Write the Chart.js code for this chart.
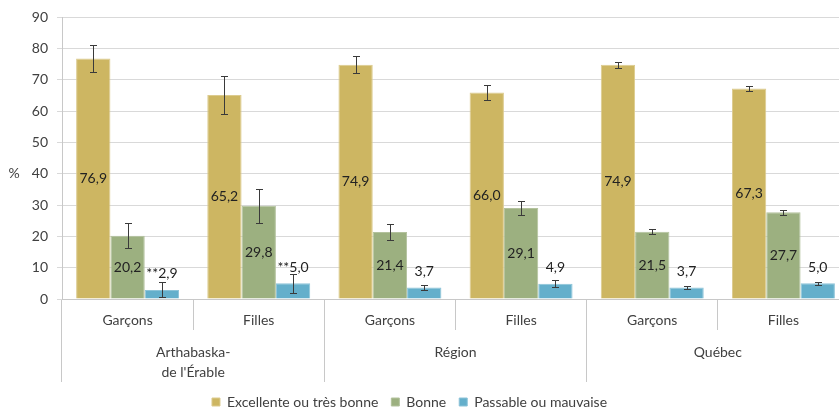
<!DOCTYPE html>
<html>
<head>
<meta charset="utf-8">
<script src="https://cdn.jsdelivr.net/npm/chart.js@4/dist/chart.umd.min.js"></script>
<style>
  html, body { margin: 0; padding: 0; background: #ffffff; overflow: hidden; width: 839px; height: 409px; }
  #wrap { position: relative; width: 849px; height: 409px; }
</style>
</head>
<body>
<div id="wrap"><canvas id="c"></canvas></div>
<script>
// ---- Data ----
const subLabels = ['Garçons', 'Filles', 'Garçons', 'Filles', 'Garçons', 'Filles'];
const groupLabels = [['Arthabaska-', "de l'Érable"], 'Région', 'Québec'];
const seriesNames = ['Excellente ou très bonne', 'Bonne', 'Passable ou mauvaise'];

const excellente = [76.9, 65.2, 74.9, 66.0, 74.9, 67.3];
const bonne      = [20.2, 29.8, 21.4, 29.1, 21.5, 27.7];
const passable   = [2.9, 5.0, 3.7, 4.9, 3.7, 5.0];

// error bar half-widths (estimated)
const errExcellente = [4.3, 6.0, 2.8, 2.5, 1.0, 0.9];
const errBonne      = [4.0, 5.5, 2.5, 2.3, 0.8, 0.9];
const errPassable   = [2.4, 3.0, 0.9, 1.2, 0.4, 0.5];

// label prefixes (** = to interpret with caution)
const prefixPassable = ['**', '**', '', '', '', ''];

const yTicks = { min: 0, max: 90, step: 10 };

// ---- Styles ----
const FONT = 'Lato, "Noto Sans", "DejaVu Sans", sans-serif';
const colors = ['#CDB662', '#9CB080', '#64AFCB'];
const borders = ['#DCCB8E', '#B3C29D', '#8CC3D8'];
const textCol = '#404040';
const axisCol = '#c8c8c8';
const gridCol = '#d9d9d9';

const fmt = v => v.toFixed(1).replace('.', ',');

const datasets = [
  { label: seriesNames[0], data: excellente, err: errExcellente, labelPos: 'center', prefix: null },
  { label: seriesNames[1], data: bonne, err: errBonne, labelPos: 'center', prefix: null },
  { label: seriesNames[2], data: passable, err: errPassable, labelPos: 'top', prefix: prefixPassable }
].map((d, i) => Object.assign(d, {
  backgroundColor: colors[i],
  borderColor: borders[i],
  borderWidth: 1,
  categoryPercentage: 0.785,
  barPercentage: 1.0
}));

const errorBarsPlugin = {
  id: 'errorBars',
  afterDatasetsDraw(chart) {
    const ctx = chart.ctx;
    const ys = chart.scales.y;
    ctx.save();
    ctx.strokeStyle = '#3a3a3a';
    ctx.lineWidth = 1;
    chart.data.datasets.forEach((ds, i) => {
      const meta = chart.getDatasetMeta(i);
      meta.data.forEach((el, j) => {
        const v = ds.data[j], e = ds.err[j];
        const x = Math.round(el.x) + 0.5;
        const yt = Math.round(ys.getPixelForValue(v + e)) + 0.5;
        const yb = Math.round(ys.getPixelForValue(v - e)) + 0.5;
        const cw = 3.5;
        ctx.beginPath();
        ctx.moveTo(x, yt); ctx.lineTo(x, yb);
        ctx.moveTo(x - cw, yt); ctx.lineTo(x + cw, yt);
        ctx.moveTo(x - cw, yb); ctx.lineTo(x + cw, yb);
        ctx.stroke();
      });
    });
    ctx.restore();
  }
};

const valueLabelsPlugin = {
  id: 'valueLabels',
  afterDraw(chart) {
    const ctx = chart.ctx;
    ctx.save();
    ctx.font = '14px ' + FONT;
    ctx.fillStyle = '#222222';
    ctx.textAlign = 'center';
    ctx.textBaseline = 'middle';
    chart.data.datasets.forEach((ds, i) => {
      const meta = chart.getDatasetMeta(i);
      meta.data.forEach((el, j) => {
        const txt = (ds.prefix ? ds.prefix[j] : '') + fmt(ds.data[j]);
        let y;
        if (ds.labelPos === 'center') y = (el.y + el.base) / 2;
        else y = el.y - 16;
        ctx.fillText(txt, el.x, y);
      });
    });
    // y axis title "%"
    ctx.fillStyle = textCol;
    ctx.font = '14px ' + FONT;
    ctx.fillText('%', 14, chart.scales.y.getPixelForValue(40));
    ctx.restore();
  }
};

const legendShiftPlugin = {
  id: 'legendShift',
  afterLayout(chart) {
    const lg = chart.legend;
    if (lg) { lg.left -= 15; lg.right -= 15; }
  }
};

new Chart(document.getElementById('c'), {
  type: 'bar',
  data: { labels: subLabels, datasets },
  options: {
    responsive: true,
    maintainAspectRatio: false,
    animation: false,
    layout: { padding: { top: 17, left: 0, right: 0, bottom: -10 } },
    plugins: {
      tooltip: { enabled: false },
      legend: {
        position: 'bottom',
        labels: {
          boxWidth: 8, boxHeight: 8, padding: 13,
          color: textCol,
          font: { family: FONT, size: 14 }
        }
      }
    },
    scales: {
      x: {
        type: 'category',
        position: 'bottom',
        weight: 0,
        offset: true,
        afterFit(scale) { scale.height = 31; },
        grid: { display: true, drawOnChartArea: false, offset: true, tickLength: 31, color: axisCol },
        border: { display: true, color: axisCol },
        ticks: { color: textCol, font: { family: FONT, size: 14 }, padding: -18, maxRotation: 0, autoSkip: false }
      },
      x2: {
        type: 'category',
        labels: groupLabels,
        position: 'bottom',
        weight: 1,
        offset: true,
        afterFit(scale) { scale.height = 52; },
        grid: { display: true, drawOnChartArea: false, offset: true, tickLength: 52, color: axisCol },
        border: { display: false },
        ticks: { color: textCol, font: { family: FONT, size: 14, lineHeight: '20px' }, padding: -40, maxRotation: 0, autoSkip: false }
      },
      y: {
        min: yTicks.min, max: yTicks.max,
        afterFit(scale) { scale.width = 62; },
        grid: { color: gridCol, tickLength: 5 },
        border: { display: true, color: axisCol },
        ticks: { stepSize: yTicks.step, color: textCol, font: { family: FONT, size: 14 }, padding: 9 }
      }
    }
  },
  plugins: [legendShiftPlugin, errorBarsPlugin, valueLabelsPlugin]
});
</script>
</body>
</html>
